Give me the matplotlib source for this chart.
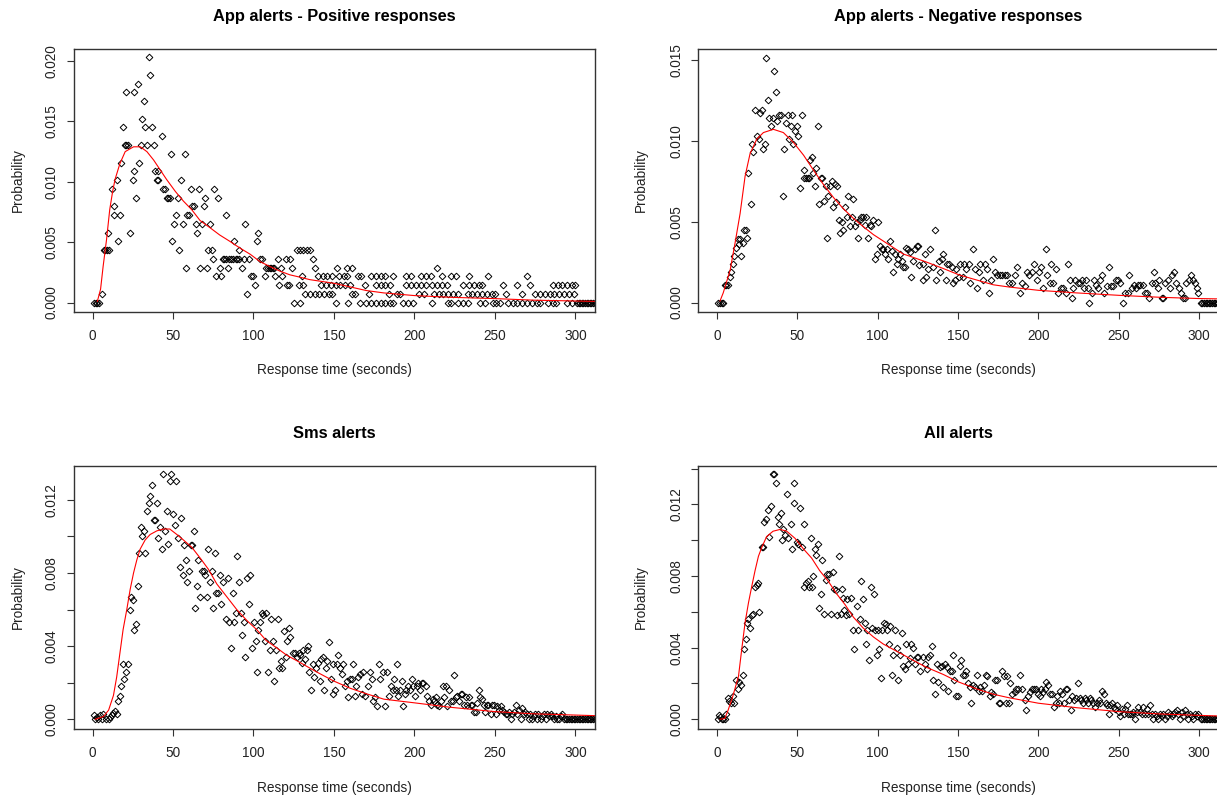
import matplotlib
matplotlib.use('Agg')
import matplotlib.pyplot as plt

plt.rcParams['font.family'] = ['Liberation Sans', 'DejaVu Sans']

# ---------------- data ----------------
titles = ["App alerts - Positive responses", "App alerts - Negative responses",
          "Sms alerts", "All alerts"]
x_label = "Response time (seconds)"
y_label = "Probability"
x_ticks = [0, 50, 100, 150, 200, 250, 300]

# Panel 1: probability comes in steps of one response
pos_step = 0.000725
pos_pts = [(1,0),(2,0),(3,0),(4,0),(6,1),(7,6),(8,6),(9,6),(10,6),(9.8,8),(12,13),(13.5,10),(13.5,11),
           (15,14),(15.7,7),(17,10),(18,16),(19,20),(20,18),(21,18),(22,18),(21,24),(23,8),(25,14),
           (25.5,15),(26,24),(27,12),(28,25),(29,16),(30,18),(30.5,21),(32,23),(32.5,20),(33.7,18),
           (35,28),(36,26),(37,20),(38,18),(39,15),(40,14),(40.5,14),(41,15),(43,19),(44,13),(45,13),
           (46,12),(47,12),(48,12),(48.7,17),(49.5,7),(50.5,9),(52,10),(53,12),(54,6),(55,14),(56,9),
           (57.5,17),(58,4),(59,10),(60,10),(61,13),(62,11),(63,11),(64,9),(65,8),(66,13),(66.5,4),
           (68,9),(69,11),(70,12),(71,4),(72,6),(73,9),(74,6),(75,5),(75.5,13),(77,3),(78,12),(79,4),
           (80,3),(81,5),(82,5),(83,5),(83,10),(84,4),(85,5),(86,5),(87,5),(88,7),(89,5),(90,5),(91,5),
           (91,6),(93,4),(94,5),(95,9),(96,1),(97,5),(98.5,3),(100,3),(101,2),(102,7),(103,8),(104,5),
           (105.5,5),(107,3),(108,4),(109,4),(110,4),(111,4),(112,4),(113,4),(113.5,3),(115,5),(116,2),
           (117,4),(118,3),(120,5),(121,2),(122,2),(123,5),(124,4)]
pos_tail_rows = {
    0: [125,129,151,159,166,170,173,176,179,182,185,187,193,196,199,211,221,223,227,230,233,241,244,
        249,251,253,258,261,264,267,270,273,276,278,283,286,288,295,298,301,302,303,304,305,306,307,
        308,309,310,311,312,313],
    1: [132,135,138,141,144,147,149,161,163,172,184,189,191,203,206,212,215,218,221,224,227,233,236,
        239,242,245,248,250,257,267,275,278,281,284,287,290,293,296,299],
    2: [128,131,142,145,148,151,154,157,160,169,176,179,182,185,195,198,201,204,207,211,214,217,220,
        230,234,237,240,242,255,264,272,286,289,292,295,298,300],
    3: [130,140,143,146,149,153,156,158,165,167,173,176,179,182,187,195,198,204,207,210,217,223,226,
        234,246,270],
    4: [138,152,158,161,214],
    5: [137],
    6: [127,129,131,133,135],
}
pos_fit = [(3,0.0001),(5,0.0011),(6.6,0.003),(8.7,0.0052),(10.7,0.0077),(12.5,0.0092),(14,0.0102),
           (17,0.0115),(20.3,0.0125),(25.5,0.0129),(29.7,0.0129),(33.8,0.0125),(38,0.0118),(42,0.011),
           (46,0.0102),(51.5,0.0092),(56.5,0.0084),(61.6,0.0077),(66.8,0.0068),(73,0.0062),(79,0.0056),
           (85,0.0051),(91.8,0.0045),(98,0.004),(104,0.0034),(110,0.003),(116.5,0.0026),(122.6,0.0023),
           (129,0.0021),(135,0.0019),(140,0.0018),(150,0.0016),(160,0.0013),(170,0.001),(181,0.0008),
           (200,0.00058),(222,0.00044),(250,0.00033),(274,0.0002),(312,0.0001)]

# Panel 2
neg_pts = [(1,0),(2,0),(3,0),(4,0),(5,0.0011),(6,0.0011),(7,0.0011),(8.3,0.0016),(9,0.0019),(10,0.0024),
           (11,0.0029),(12,0.0034),(13,0.0039),(13.7,0.0036),(14.5,0.0039),(15,0.0029),(16,0.0037),
           (17,0.0045),(18,0.0045),(19,0.004),(19.7,0.008),(21,0.0061),(21.7,0.0098),(22.8,0.0093),
           (24,0.0119),(25,0.0103),(26,0.0101),(27,0.0117),(28,0.0119),(29,0.0095),(30,0.0098),
           (30.7,0.0151),(31.7,0.0125),(32.7,0.0114),(33.8,0.0109),(34.8,0.0114),(35.6,0.0143),
           (37,0.013),(37.7,0.0112),(39,0.0116),(40,0.0116),(41,0.0066),(41.8,0.0095),(42.9,0.0111),
           (44,0.0116),(45,0.0101),(46,0.0109),(47,0.0116),(47.6,0.0098),(48.7,0.0106),(49.7,0.0109),
           (50.8,0.0103),(51.8,0.0071),(52.8,0.0116),(54,0.0082),(54.5,0.0077),(55.5,0.0077),
           (56.5,0.0077),(57.5,0.0077),(58,0.0088),(59,0.009),(60,0.008),(61,0.0072),(62,0.0083),
           (63,0.0109),(63.8,0.0061),(64.6,0.0077),(65.7,0.0077),(66.7,0.0063),(67.7,0.0072),
           (68.4,0.004),(69.4,0.0066),(70.4,0.0072),(71.7,0.0075),(72.5,0.0059),(73.5,0.0073),
           (74.2,0.0062),(75,0.0072),(75.8,0.0051),(76.7,0.0043),(77.7,0.005),(78.7,0.0045),
           (79.8,0.0059),(80.8,0.0053),(81.8,0.0066),(82.9,0.0047),(84,0.0053),(85,0.0064),(86,0.0047),
           (87,0.005),(88,0.004),(89,0.0051),(90,0.0053),(91,0.0053),(92,0.0048),(93,0.0053),(94,0.004),
           (95,0.0048),(96,0.0047),(97,0.0051),(98.4,0.0027),(99.4,0.003),(100.5,0.005),(101.5,0.0035),
           (102.5,0.0033),(103.6,0.0033),(104.6,0.003),(105.6,0.0033),(106.7,0.0027),(107.7,0.0038),
           (108.8,0.0032),(109.8,0.0019),(110.8,0.003),(112,0.0024),(113,0.0027),(114,0.003),
           (115,0.0026),(116,0.0022),(117,0.0022),(118,0.0034),(119,0.0033),
           (120,0.0031),(121,0.0016),(122,0.0026),(123,0.0033),(124.5,0.0035),(125,0.0035),(126,0.0023),
           (128,0.0014),(128.3,0.0024),(129.3,0.003),(130.4,0.0016),(131.4,0.0021),(132.8,0.0033),
           (134.5,0.0022),(136,0.0045),(136.6,0.0014),(138.2,0.0026),(139,0.0019),(140,0.0027),
           (140.7,0.003),(142.4,0.0014),(143.2,0.0024),(144.4,0.0024),(146,0.0022),(147,0.0012),
           (148,0.0014),(149,0.0021),(150.6,0.0016),(151.5,0.0024),(153,0.0016),(154,0.0024),
           (155,0.0021),(157,0.0024),(157.7,0.0012),(159.3,0.0033),(160.4,0.0021),(161.8,0.0009),
           (163,0.0019),(164,0.0024),(165.5,0.0014),(167,0.0024),(168,0.0021),(169.3,0.0006),
           (170.7,0.0014),(171.8,0.0027),(173,0.0019),(174,0.0017),(176,0.0017),(177.5,0.0017),
           (179.4,0.0017),(180.7,0.0017),(182,0.0012),(183.8,0.0012),(185.4,0.0017),(186.7,0.0022),
           (188.3,0.0006),(190,0.0012),(191.5,0.001),(193,0.0019),(194.5,0.0017),(196,0.0019),
           (197.6,0.0024),(199,0.0014),(200.7,0.0019),(201.8,0.0022),(203,0.0009),(204.5,0.0033),
           (205.7,0.0017),(207,0.0012),(208,0.0024),(209.4,0.0012),(211,0.0021),(212.5,0.0006),
           (214.2,0.0009),(215.6,0.0009),(217.3,0.0006),(218.7,0.0024),(219.8,0.0014),(220.8,0.0003),
           (221.8,0.0009),(223,0.0014),(224.5,0.0012),(226,0.0012),(227.2,0.0014),(228.5,0.0009),
           (229.7,0.0014),(231,0.0009),(231.8,0.0),(233.2,0.0006),(234.5,0.0014),(236,0.0011),
           (237.4,0.0009),(238.6,0.0014),(239.6,0.0017),(241,0.0006),(242.5,0.001),(244,0.0022),
           (245.4,0.001),(246.7,0.001),(248.3,0.0014),(249.4,0.0014),(250.8,0.0012),(252.5,0.0),
           (254,0.0006),(255.6,0.0006),(256.6,0.0017),(258,0.0009),(259.3,0.0011),(260.8,0.0009),
           (262.2,0.0011),(263.5,0.0011),(265,0.0011),(266.3,0.0006),(267.4,0.0006),(269,0.0003),
           (270.5,0.0012),(271.7,0.0019),(272.8,0.0012),(274.2,0.0009),(275.3,0.0014),(276.7,0.0003),
           (277.7,0.0003),(279,0.0012),(280.4,0.0014),(281.9,0.0009),(283,0.0017),(284.6,0.0019),
           (285.6,0.0012),(287.3,0.0009),(288.7,0.0006),(289.7,0.0003),(291.2,0.0003),(291.8,0.0012),
           (293.5,0.0014),(295,0.0017),(296,0.0014),(297.4,0.0012),(298.4,0.0009),(299.5,0.0006)]
neg_fit = [(2,0.0001),(4,0.0006),(8.3,0.002),(11.4,0.0037),(14.5,0.0055),(17.6,0.0078),(20.7,0.0092),
           (24.9,0.0101),(29,0.0105),(35.2,0.0107),(41.4,0.0105),(47.6,0.0099),(54,0.0091),(60,0.0082),
           (66.3,0.0073),(72.5,0.0065),(78.7,0.0058),(85,0.0052),(91,0.0047),(97.4,0.0042),
           (103.6,0.0038),(109.8,0.0034),(116,0.003),(122,0.0028),(130.5,0.0025),(141,0.0021),
           (151,0.0017),(161.5,0.0014),(172,0.0011),(182,0.00096),(200,0.00076),(223.7,0.0006),
           (250,0.00045),(275.5,0.00033),(300,0.00025),(312,0.00023)]

# Panel 3
sms_pts = [(1,0.00024),(1.5,0),(2.7,0.00015),(3.5,0),(4.8,0.00024),(5.8,0),(6.8,0.00027),(8.5,0),(10,0),
           (10.6,0.00015),(12,0.00024),(13,0.00036),(14,0.00045),(15,0.00027),(16,0.001),(17,0.0013),
           (17.8,0.0018),(18.8,0.003),(19.7,0.0022),(21,0.0026),(22,0.003),(23,0.006),(24,0.0067),
           (25,0.0065),(26,0.0049),(27,0.0052),(28,0.0073),(29,0.0091),(30,0.0105),(31,0.01),
           (31.7,0.0103),(32.7,0.0091),(33.7,0.0114),(34.8,0.0118),(35.8,0.0122),(36.9,0.0128),
           (37.9,0.0109),(39,0.0109),(40,0.0118),(41,0.0099),(42,0.0105),(43,0.0093),(44,0.0134),
           (45,0.0103),(46,0.0114),(47,0.0096),(48,0.013),(49,0.0134),(50,0.0112),(51,0.0106),
           (52,0.013),(53.4,0.0099),(54.5,0.0083),(55,0.011),(56,0.0079),(57,0.0095),(58,0.0087),
           (59,0.0075),(60,0.0081),(61,0.0095),(62,0.0095),(63,0.0103),(63.8,0.0061),(65,0.0073),
           (65.8,0.0087),(67,0.0067),(68,0.0081),(69,0.0081),(70,0.0079),(71,0.0067),(72,0.0093),
           (72.7,0.0075),(74,0.0081),(74.7,0.0061),(76,0.0091),(77,0.0069),(78,0.0069),(79,0.0079),
           (80,0.0063),(81,0.0075),(83,0.0055),(84,0.0077),(85,0.0053),(86,0.0039),(87,0.0069),
           (88,0.0053),(89,0.0058),(90,0.0089),(91,0.0075),(92,0.0058),(93,0.0046),(94,0.0053),
           (95,0.0034),(96,0.0077),(97,0.0063),(98,0.0079),(99,0.0039),(100.4,0.0053),(101.6,0.0043),
           (102,0.0026),(103,0.0049),(104,0.0053),(105,0.0058),(106,0.0057),(107,0.0043),(108,0.0058),
           (109,0.0026),(110,0.0038),(111,0.0055),(112.4,0.0043),(113,0.0021),(114,0.0038),
           (115,0.0055),(116,0.0028),(117,0.0032),(118,0.0028),(119,0.0048),(120,0.0034),(121,0.0043),
           (122,0.005),(123,0.0045),(124.4,0.0036),(125.7,0.0036),(127,0.0034),(128,0.0036),
           (129,0.0035),(130,0.0031),(131,0.0038),(132,0.0033),(133,0.0038),(134,0.004),(134.8,0.0026),
           (136,0.0016),(137,0.003),(137.7,0.0023),(138.7,0.0028),(140.4,0.0031),(141.4,0.0021),
           (142,0.0033),(143,0.0034),(144,0.0016),(145,0.0028),(146,0.0032),(147.2,0.0042),(148,0.0022),
           (149.3,0.0014),(149.7,0.003),(150.7,0.0016),(151.8,0.003),(152.8,0.0035),(153.8,0.0028),
           (154.9,0.0025),(155.9,0.003),(157,0.0018),(158,0.0021),(159,0.0012),(160,0.0022),
           (161,0.0022),(162,0.003),(163,0.0013),(164,0.0018),(165,0.0023),(166,0.0025),(167.3,0.0014),
           (168.3,0.0026),(169.4,0.0013),(171.4,0.0018),(172.5,0.0026),(173.5,0.0022),(174.5,0.001),
           (175.6,0.0012),(177,0.0007),(178,0.003),(178.7,0.0022),(180.3,0.0026),(181.8,0.0007),
           (183.2,0.0026),(184.5,0.0013),(185.3,0.0018),(186.5,0.0016),(187.4,0.0022),(188.4,0.0016),
           (189,0.003),(190,0.0013),(191,0.0016),(192,0.0021),(193,0.0007),(194,0.0014),(195,0.0016),
           (196,0.0018),(197,0.0016),(198.3,0.0022),(199.4,0.0018),(200.4,0.0013),(201.4,0.0018),
           (202.5,0.002),(203.5,0.0016),(204.5,0.002),(205.6,0.002),(207.2,0.0018),(208,0.0013),
           (209.3,0.001),(210,0.0008),(211.4,0.0011),(212.2,0.001),(213.5,0.0012),(214.3,0.0008),
           (215.5,0.0007),(216.4,0.001),(217.6,0.0018),(218.4,0.0012),(219.5,0.0018),(220.5,0.0007),
           (221.5,0.0016),(222.6,0.001),(223.8,0.001),(224.6,0.0024),(225.7,0.0012),(226.7,0.0013),
           (227.7,0.001),(228.8,0.0014),(229.8,0.0014),(230.8,0.0008),(231.9,0.0012),(232.9,0.0008),
           (234,0.0012),(235,0.0008),(236,0.0008),(237,0.0004),(238,0.0004),(239,0.0009),(240,0.0016),
           (241,0.0012),(242,0.0011),(243,0.0008),(244,0.0004),(245,0.0008),(246,0.0008),(247.4,0.0003),
           (248.4,0.0008),(249.5,0.0008),(250.5,0.0003),(251.5,0.0007),(252.6,0.0005),(253.6,0.0007),
           (254.6,0.0005),(255.7,0.0004),(256.7,0.0003),(257.8,0.0003),(258.8,0.0004),(259.8,0.0),
           (260.9,0.0003),(262,0.0004),(263,0.0008),(264,0.0003),(265,0.0005),(266,0.0),(267,0.0006),
           (268,0.0003),(269,0.0004),(270,0.0003),(271,0.0),(272,0.0003),(273,0.0),(274,0.0002),
           (275,0.0003),(276,0.0),(277,0.0003),(278.5,0.0),(279.5,0.0002),(280.5,0.0003),(281.6,0.0),
           (282.6,0.0003),(283.6,0.0002),(284.7,0.0003),(285.7,0.0002),(286.7,0.0),(287.8,0.0002),
           (288.8,0.0),(289.8,0.0),(290.9,0.0002),(291.9,0.0003),(293,0.0),(294,0),(295,0),(296,0),
           (297,0),(298,0),(299,0),(300,0)]
sms_fit = [(1.7,0),(6.8,0.00015),(10,0.0005),(13,0.0013),(15,0.0023),(17,0.0036),(19,0.0049),
           (21.3,0.006),(23.4,0.0071),(25.5,0.008),(27.5,0.0087),(29.6,0.0093),(32.7,0.0098),
           (35.8,0.0101),(40,0.0103),(44,0.0104),(48,0.0104),(52.4,0.0101),(56.5,0.0098),(61.7,0.0094),
           (67,0.0088),(72,0.0082),(77.2,0.0074),(83.4,0.0067),(89.6,0.006),(95.9,0.0054),(102,0.0049),
           (108,0.0043),(114.5,0.0039),(120.7,0.0035),(127,0.0032),(135,0.0028),(139,0.0026),
           (149.7,0.0021),(160,0.0017),(170,0.0014),(181,0.0011),(200,0.0009),(222,0.00066),
           (250,0.00042),(274,0.0003),(312,0.0002)]

# Panel 4
all_pts = [(0.6,0),(1.5,0.00024),(2,0.00015),(3,0),(4,0),(5,0),(5.8,0.0003),(6.8,0.0012),(7.9,0.001),
           (9,0.0009),(10,0.0013),(11,0.0009),(12,0.0022),(13,0.0017),(14,0.0021),(15,0.0019),
           (16,0.0025),(17,0.0039),(18,0.0045),(18.6,0.0054),(19.7,0.0056),(20.7,0.0051),(21.7,0.0058),
           (22.8,0.0059),(23.8,0.0074),(24.9,0.0075),(25.7,0.0076),(26.5,0.006),(28,0.0096),(29,0.0096),
           (29.6,0.011),(30.5,0.0112),(31.7,0.0117),(32.5,0.0102),(33.8,0.0119),(35.2,0.0137),
           (35.8,0.0137),(36.9,0.0132),(38,0.0113),(39,0.0109),(40,0.0115),(40.8,0.01),(41.4,0.0106),
           (42.5,0.0103),(43.5,0.0126),(44.5,0.0101),(46,0.0109),(46.8,0.0095),(48,0.0132),
           (48.2,0.0121),(49.7,0.0099),(50.8,0.0098),(51.8,0.0118),(52.8,0.0096),(54,0.0074),
           (54.5,0.0109),(55.5,0.0076),(56.5,0.0077),(57.6,0.0074),(58.4,0.0101),(59.5,0.0074),
           (60,0.008),(61,0.0095),(61.7,0.0092),(62.8,0.0098),(63.8,0.0062),(64.6,0.007),(65.7,0.0089),
           (66.7,0.0059),(68,0.0078),(68.8,0.0081),(70,0.0081),(70.9,0.0059),(72,0.0082),(73,0.0073),
           (74,0.0072),(75,0.0058),(76,0.0091),(77,0.0059),(78,0.0073),(78.7,0.0068),(79.3,0.0061),
           (80.4,0.0058),(81.2,0.0067),(82.5,0.0059),(83.3,0.0068),(84.5,0.005),(85.6,0.0039),
           (87,0.0063),(88,0.005),(89,0.0056),(90,0.0077),(90.7,0.0067),(92,0.0054),(92.8,0.0042),
           (93.6,0.005),(94.5,0.0033),(95.7,0.0074),(96.3,0.0051),(97.8,0.007),(98.4,0.005),
           (99.4,0.0036),(100.5,0.005),(101,0.0039),(102,0.0023),(103,0.005),(104,0.0054),(105,0.0053),
           (106,0.005),(107,0.0042),(108,0.0052),(109,0.0025),(109.8,0.0036),(110.8,0.005),(112,0.004),
           (113,0.0022),(114,0.0036),(115,0.0048),(116,0.003),(117,0.0028),(118,0.0042),(119,0.0031),
           (120.1,0.0034),(121.1,0.0042),(122.2,0.004),(123.2,0.0031),(124.7,0.0035),(125.3,0.0035),
           (126.7,0.0027),(128,0.0035),(129.4,0.0031),(130.5,0.0028),(131.5,0.0035),(132.5,0.0036),
           (133.6,0.0041),(134.6,0.0022),(135.6,0.0014),(136.7,0.0031),(137.7,0.0021),(138.7,0.0029),
           (139.8,0.003),(140.8,0.0018),(141.8,0.0031),(142.9,0.0029),(143.9,0.0016),(144.9,0.0027),
           (146,0.0027),(147,0.0036),(147.6,0.0022),(149,0.0013),(150,0.0013),(151.2,0.003),
           (152.2,0.0033),(153.2,0.0025),(154.3,0.0025),(155.3,0.0027),(156.3,0.002),(157.4,0.0018),
           (158.4,0.0009),(159.4,0.0019),(160.5,0.0018),(161.9,0.0025),(163.2,0.0016),(164,0.0018),
           (165.2,0.0016),(166,0.0019),(167.3,0.0025),(168.3,0.0024),(169.8,0.0013),(170.8,0.0015),
           (171.9,0.0014),(172.9,0.0022),(174.3,0.0022),(175.6,0.0009),(176.4,0.0009),(177.6,0.0027),
           (178.5,0.0024),(179.7,0.0009),(180.5,0.0024),(181.8,0.0009),(182.6,0.002),(183.9,0.0014),
           (185.3,0.0015),(186.3,0.0017),(187.4,0.0017),(188.8,0.0025),(190.1,0.0017),(191.5,0.0011),
           (192.6,0.0005),(193.6,0.0013),(194.6,0.0015),(196.3,0.0017),(197.1,0.0017),(198.3,0.0017),
           (199.8,0.0014),(200.8,0.0013),(201.9,0.0017),(202.9,0.0015),(203.9,0.0017),(205,0.0021),
           (206,0.0019),(207,0.0014),(208.5,0.0014),(209.5,0.0007),(210.8,0.0009),(211.8,0.0013),
           (212.6,0.0009),(213.7,0.0016),(214.9,0.0014),(216,0.0009),(217,0.0017),(218,0.0017),
           (219,0.0011),(220.1,0.0005),(221.1,0.0013),(222.2,0.0011),(223.6,0.0012),(224.6,0.002),
           (225.7,0.0012),(226.7,0.0011),(227.7,0.0009),(228.8,0.0012),(229.8,0.0011),(230.8,0.0009),
           (231.9,0.0012),(232.9,0.0011),(234,0.0009),(235,0.0007),(236.4,0.0009),(237.5,0.0011),
           (238.5,0.0009),(239.7,0.0016),(240.6,0.0014),(241.8,0.0009),(242.6,0.0008),(243.9,0.0003),
           (244.7,0.0008),(245.7,0.0009),(246.8,0.0007),(248,0.0006),(248.9,0.0008),(249.9,0.0004),
           (250.9,0.0002),(252,0.0006),(253,0.0003),(254,0.0006),(255,0.0008),(256,0.0003),
           (257.1,0.0003),(258.2,0.0003),(259.2,0.0004),(260.2,0),(261.3,0.0004),(262.3,0.0007),
           (263.3,0.0004),(264.4,0.0003),(265.4,0.0007),(266.4,0.0003),(267.5,0.0006),(268.5,0.0003),
           (269.6,0.0008),(270.6,0.0003),(271.6,0),(272.7,0.0003),(273.7,0.0002),(274.7,0),
           (275.8,0.0003),(276.8,0.0002),(277.8,0.0003),(278.9,0),(279.9,0.0002),(280.9,0.0004),
           (282,0.0003),(283,0.0002),(284,0.0003),(285.1,0.0004),(286.1,0.0005),(287.1,0.0003),
           (288.2,0),(289.2,0.0004),(290.3,0.0002),(291.3,0.0005),(292.3,0.0003),(293.4,0),
           (294.4,0.0003),(295.4,0.0002),(296.5,0),(297.5,0.0003),(298.5,0.0002),(299.6,0.0003)]
all_fit = [(2,0),(5,0.00005),(7,0.0005),(10,0.0013),(13.5,0.0024),(15.5,0.0039),(17.6,0.0054),
           (19.7,0.0065),(21.7,0.0074),(23.8,0.0083),(25.9,0.0091),(28,0.0096),(31,0.0102),(35,0.0105),
           (39.4,0.0106),(43.5,0.0105),(48.7,0.0101),(54,0.0095),(59,0.009),(64,0.0083),(69.4,0.0077),
           (74.6,0.007),(79.8,0.0064),(85,0.0057),(91,0.0051),(97.4,0.0046),(103.6,0.0042),
           (109.8,0.0039),(116,0.0036),(122,0.0033),(130.5,0.0029),(141,0.0025),(150,0.0021),
           (161.5,0.0017),(172,0.0014),(182,0.0012),(200,0.0009),(223.7,0.00065),(250,0.00043),
           (275.5,0.0003),(300,0.00022),(311,0.00019)]

# responses beyond 300 s are recorded with zero probability
zero_tail_x = [301,302,303,304,305,306,307,308,309,310,311,312,313]

# y-axis ticks per panel
y_ticks = [[0.0, 0.005, 0.010, 0.015, 0.020],
           [0.0, 0.005, 0.010, 0.015],
           [0.0, 0.002, 0.004, 0.006, 0.008, 0.010, 0.012],
           [0.0, 0.002, 0.004, 0.006, 0.008, 0.010, 0.012, 0.014]]
y_ticklabels = [["0.000", "0.005", "0.010", "0.015", "0.020"],
                ["0.000", "0.005", "0.010", "0.015"],
                ["0.000", "", "0.004", "", "0.008", "", "0.012"],
                ["0.000", "", "0.004", "", "0.008", "", "0.012", ""]]
y_lims = [(-0.00078, 0.0210), (-0.00058, 0.01566), (-0.00053, 0.01386), (-0.00054, 0.01414)]

# ---------------- build series ----------------
pos_x = [p[0] for p in pos_pts]
pos_y = [p[1] * pos_step for p in pos_pts]
for lvl, xs in pos_tail_rows.items():
    pos_x += xs
    pos_y += [lvl * pos_step] * len(xs)

def split(pts):
    return [p[0] for p in pts], [p[1] for p in pts]

series = []
for pts, fit, tail in [((pos_x, pos_y), pos_fit, False),
                       (split(neg_pts), neg_fit, True),
                       (split(sms_pts), sms_fit, True),
                       (split(all_pts), all_fit, True)]:
    x, y = list(pts[0]), list(pts[1])
    if tail:
        x += zero_tail_x
        y += [0.0] * len(zero_tail_x)
    series.append((x, y, split(fit)))

# ---------------- figure ----------------
W, H = 1217, 801
fig = plt.figure(figsize=(W / 100, H / 100), dpi=100)
fig.patch.set_facecolor('white')

# (left, right, top, bottom) in pixels
boxes = [(74, 595, 49, 312), (698.3, 1218.7, 49, 312),
         (74, 595, 465.7, 729), (698.3, 1218.7, 466, 729)]
title_y = [17, 17, 433, 433]
xlab_y = [370, 370, 788, 788]
ylab_x = [18, 641, 18, 641]

for i, (l, r, t, b) in enumerate(boxes):
    ax = fig.add_axes([l / W, 1 - b / H, (r - l) / W, (b - t) / H])
    x, y, (fx, fy) = series[i]
    ax.plot(x, y, linestyle='none', marker='D', markersize=3.4,
            markerfacecolor='none', markeredgecolor='black', markeredgewidth=0.7)
    ax.plot(fx, fy, color='#ff0000', linewidth=0.8)
    ax.set_xlim(-11.5, 312.2)
    ax.set_ylim(*y_lims[i])
    ax.set_xticks(x_ticks)
    ax.set_xticklabels([str(v) for v in x_ticks])
    ax.set_yticks(y_ticks[i])
    ax.set_yticklabels(y_ticklabels[i])
    for s in ax.spines.values():
        s.set_color('#333333')
        s.set_linewidth(1.0)
    ax.tick_params(axis='both', direction='out', length=5, width=0.8, color='#333333',
                   labelsize=9.8, labelcolor='#222222')
    ax.tick_params(axis='x', pad=7.5)
    ax.tick_params(axis='y', pad=6.0)
    for lab in ax.get_yticklabels():
        lab.set_rotation(90)
        lab.set_va('center')
        lab.set_ha('right')
    cx = (l + min(r, 1218.7)) / 2
    fig.text(cx / W, 1 - title_y[i] / H, titles[i], ha='center', va='center',
             fontsize=11.8, fontweight='bold', color='black')
    fig.text(cx / W, 1 - xlab_y[i] / H, x_label, ha='center', va='center',
             fontsize=9.8, color='#222222')
    fig.text(ylab_x[i] / W, 1 - ((t + b) / 2) / H, y_label, ha='center', va='center',
             rotation=90, fontsize=9.8, color='#222222')

fig.savefig('out.png', dpi=100)
